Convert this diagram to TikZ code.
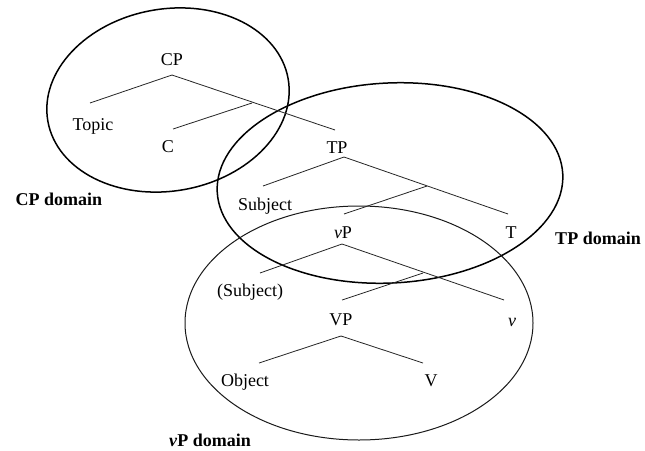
\documentclass[tikz,border=0pt]{standalone}
\usepackage{fontspec}
\setmainfont{Liberation Serif}
\begin{document}
\begin{tikzpicture}[x=1pt,y=-1pt,
  lbl/.style={font=\fontsize{18}{20}\selectfont, inner sep=0pt},
  dom/.style={font=\fontsize{18}{20}\selectfont\bfseries, inner sep=0pt},
  branch/.style={draw=black!85, line width=0.8pt},
  bigring/.style={draw=black, line width=1.5pt},
  thinring/.style={draw=black!90, line width=1pt}]
\useasboundingbox (0,0) rectangle (645,450);
\fill[white] (0,0) rectangle (645,450);
% domains
\draw[bigring] (168,100) ellipse [x radius=122, y radius=91, rotate=10];
\draw[bigring] (390,183) ellipse [x radius=173, y radius=100, rotate=3];
\draw[thinring] (359,323) ellipse [x radius=174, y radius=117];
% labels
\node[lbl] (cp) at (172,60) {CP};
\node[lbl] (topic) at (93,126) {Topic};
\node[lbl] (c) at (168,147) {C};
\node[dom] (cpdom) at (59,199) {CP domain};
\node[lbl] (tp) at (337,148) {TP};
\node[lbl] (subj) at (265,206) {Subject};
\node[lbl] (vp) at (343,233) {\textit{v}P};
\node[lbl] (t) at (511,233) {T};
\node[dom] (tpdom) at (598,238) {TP domain};
\node[lbl] (subj2) at (250,292) {(Subject)};
\node[lbl] (bigvp) at (341,320) {VP};
\node[lbl] (v) at (512,322) {\textit{v}};
\node[lbl] (obj) at (245,382) {Object};
\node[lbl] (bigv) at (431,381) {V};
\node[dom] (vpdom) at (210,440) {\textbf{\textit{v}}P domain};
% branch points
\coordinate (cpA) at (172,75);
\coordinate (topicE) at (90,103);
\coordinate (tpE) at (335,130);
\coordinate (cbar) at (252,103);
\coordinate (cE) at (173,129);
\coordinate (tpA) at (344,157);
\coordinate (subjE) at (263,186);
\coordinate (tE) at (508,214);
\coordinate (tbar) at (427,186);
\coordinate (vpE) at (344,214);
\coordinate (vpA) at (342,244);
\coordinate (subj2E) at (260,273);
\coordinate (vE) at (504,300);
\coordinate (vbar) at (423,273);
\coordinate (bigvpE) at (342,300);
\coordinate (bigvpA) at (341,336);
\coordinate (objE) at (259,363);
\coordinate (bigvE) at (423,363);
% branches
\draw[branch] (topicE) -- (cpA) -- (tpE);
\draw[branch] (cbar) -- (cE);
\draw[branch] (subjE) -- (tpA) -- (tE);
\draw[branch] (tbar) -- (vpE);
\draw[branch] (subj2E) -- (vpA) -- (vE);
\draw[branch] (vbar) -- (bigvpE);
\draw[branch] (objE) -- (bigvpA) -- (bigvE);
\end{tikzpicture}
\end{document}
